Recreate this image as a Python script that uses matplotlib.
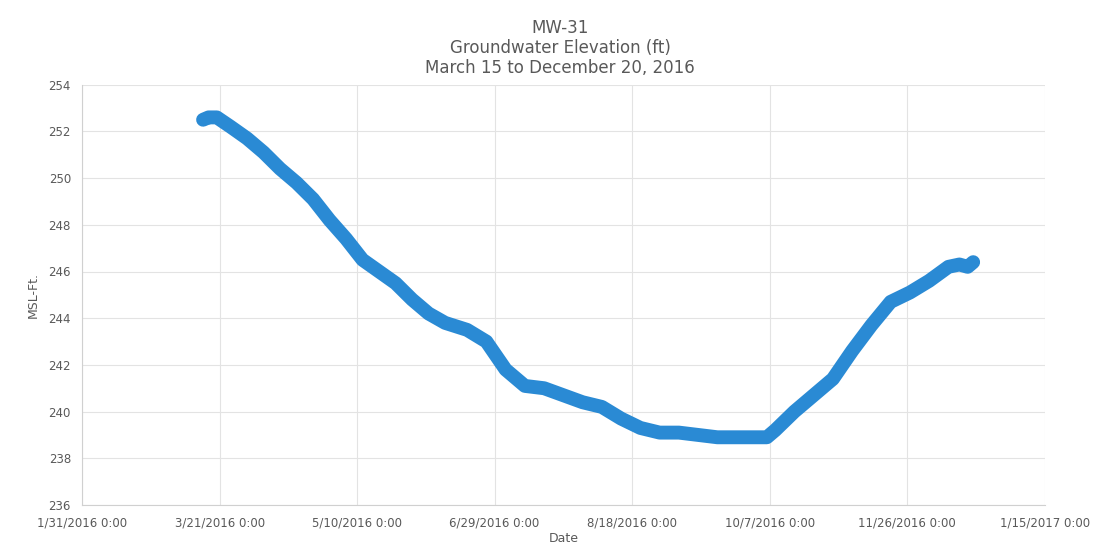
import datetime as dt
import matplotlib
matplotlib.use("Agg")
import matplotlib.pyplot as plt

# =========================
# DATA
# =========================
dates = [
    "2016-03-15", "2016-03-17", "2016-03-20", "2016-03-25", "2016-03-31",
    "2016-04-06", "2016-04-12", "2016-04-18", "2016-04-24", "2016-04-30",
    "2016-05-06", "2016-05-12", "2016-05-18", "2016-05-24", "2016-05-30",
    "2016-06-05", "2016-06-11", "2016-06-19", "2016-06-26", "2016-07-03",
    "2016-07-10", "2016-07-17", "2016-07-24", "2016-07-31", "2016-08-07",
    "2016-08-14", "2016-08-21", "2016-08-28", "2016-09-04", "2016-09-11",
    "2016-09-18", "2016-09-25", "2016-10-02", "2016-10-06", "2016-10-09",
    "2016-10-16", "2016-10-23", "2016-10-30", "2016-11-06", "2016-11-13",
    "2016-11-20", "2016-11-27", "2016-12-04", "2016-12-11", "2016-12-15",
    "2016-12-18", "2016-12-20",
]
elevation = [
    252.5, 252.6, 252.6, 252.2, 251.7,
    251.1, 250.4, 249.8, 249.1, 248.2,
    247.4, 246.5, 246.0, 245.5, 244.8,
    244.2, 243.8, 243.5, 243.0, 241.8,
    241.1, 241.0, 240.7, 240.4, 240.2,
    239.7, 239.3, 239.1, 239.1, 239.0,
    238.9, 238.9, 238.9, 238.9, 239.2,
    240.0, 240.7, 241.4, 242.6, 243.7,
    244.7, 245.1, 245.6, 246.2, 246.3,
    246.2, 246.4,
]

tick_start = dt.datetime(2016, 1, 31)
tick_step_days = 50
n_ticks = 8

x = [dt.datetime.strptime(d, "%Y-%m-%d") for d in dates]
ticks = [tick_start + dt.timedelta(days=tick_step_days * k) for k in range(n_ticks)]
tick_labels = [f"{t.month}/{t.day}/{t.year} 0:00" for t in ticks]

# =========================
# FIGURE
# =========================
txt = "#595959"
grid = "#e3e3e3"

fig = plt.figure(figsize=(11.09, 5.43), dpi=100)
ax = fig.add_axes([0.074, 0.070, 0.868, 0.774])

ax.plot(x, elevation, color="#2a8ad4", linewidth=10,
        solid_capstyle="round", solid_joinstyle="round")

ax.set_xlim(ticks[0], ticks[-1])
ax.set_ylim(236, 254)
ax.set_xticks(ticks)
ax.set_xticklabels(tick_labels)
ax.set_yticks(range(236, 255, 2))

ax.grid(True, color=grid, linewidth=0.8)
ax.set_axisbelow(True)
for side in ["top", "right"]:
    ax.spines[side].set_visible(False)
for side in ["left", "bottom"]:
    ax.spines[side].set_color("#d0d0d0")
ax.tick_params(length=0, colors=txt, labelsize=8.5, pad=8)

ax.set_xlabel("Date", color=txt, fontsize=9, labelpad=2)
ax.set_ylabel("MSL-Ft.", color=txt, fontsize=9, labelpad=6)

fig.text(0.505, 0.965, "MW-31\nGroundwater Elevation (ft)\nMarch 15 to December 20, 2016",
         ha="center", va="top", color=txt, fontsize=12, linespacing=1.15)

fig.savefig("out.png", dpi=100)
